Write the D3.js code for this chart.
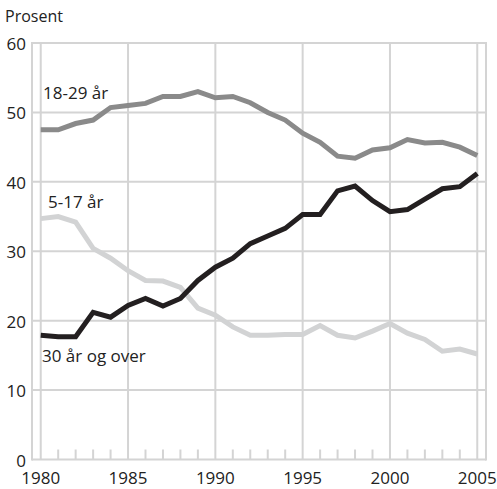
<!DOCTYPE html>
<html>
<head>
<meta charset="utf-8">
<script src="https://cdn.jsdelivr.net/npm/d3@7"></script>
<style>
  body { margin: 0; background: #fff; }
  text { font-family: "Open Sans", sans-serif; fill: #222; }
</style>
</head>
<body>
<svg width="497" height="489"></svg>
<script>
// years 1980-2005
var years = d3.range(1980, 2006);

var age18to29 = [47.5, 47.5, 48.4, 48.9, 50.7, 51.0, 51.3, 52.3, 52.3, 53.0, 52.1, 52.3, 51.4, 50.0, 48.9,
  47.0, 45.7, 43.7, 43.4, 44.6, 44.9, 46.1, 45.6, 45.7, 45.0, 43.8];
var age5to17 = [34.7, 35.0, 34.2, 30.4, 29.0, 27.2, 25.8, 25.7, 24.8, 21.8, 20.8, 19.1, 17.9, 17.9, 18.0,
  18.0, 19.3, 17.9, 17.5, 18.5, 19.6, 18.2, 17.3, 15.6, 15.9, 15.2];
var age30plus = [17.9, 17.7, 17.7, 21.2, 20.5, 22.2, 23.2, 22.1, 23.2, 25.8, 27.7, 29.0, 31.1, 32.2, 33.3,
  35.3, 35.3, 38.7, 39.4, 37.3, 35.7, 36.0, 37.5, 39.0, 39.3, 41.2];

var yTicks = [0, 10, 20, 30, 40, 50, 60];
var xTicks = [1980, 1985, 1990, 1995, 2000, 2005];

var series = [
  {name: "18-29 år", values: age18to29, color: "#8a8a8a", lx: 43, ly: 99},
  {name: "5-17 år", values: age5to17, color: "#d2d3d4", lx: 48, ly: 208},
  {name: "30 år og over", values: age30plus, color: "#231f20", lx: 42, ly: 362}
];

var svg = d3.select("svg");

var x = d3.scaleLinear().domain([1979.5, 2005.5]).range([32, 486]);
var y = d3.scaleLinear().domain([0, 60]).range([459.5, 43]);

var grid = "#d4d4d4";

// horizontal gridlines
svg.selectAll(".hgrid").data(yTicks).enter().append("line")
  .attr("x1", x(1979.5)).attr("x2", x(2005.5))
  .attr("y1", function (d) { return y(d); }).attr("y2", function (d) { return y(d); })
  .attr("stroke", grid).attr("stroke-width", 2);

// vertical gridlines
svg.selectAll(".vgrid").data(xTicks).enter().append("line")
  .attr("x1", function (d) { return x(d); }).attr("x2", function (d) { return x(d); })
  .attr("y1", y(60)).attr("y2", y(0))
  .attr("stroke", grid).attr("stroke-width", 2);

// frame left/right
svg.selectAll(".frame").data([1979.5, 2005.5]).enter().append("line")
  .attr("x1", function (d) { return x(d); }).attr("x2", function (d) { return x(d); })
  .attr("y1", y(60) - 1).attr("y2", y(0) + 1)
  .attr("stroke", grid).attr("stroke-width", 2);

// minor year ticks
svg.selectAll(".minor").data(years.filter(function (d) { return d % 5 != 0; })).enter().append("line")
  .attr("x1", function (d) { return x(d); }).attr("x2", function (d) { return x(d); })
  .attr("y1", y(0)).attr("y2", y(0) - 10)
  .attr("stroke", grid).attr("stroke-width", 2);

// y labels
svg.selectAll(".ylab").data(yTicks).enter().append("text")
  .attr("x", 26).attr("y", function (d) { return y(d) + 7; })
  .attr("text-anchor", "end").attr("font-size", 17)
  .text(function (d) { return d; });

// x labels
svg.selectAll(".xlab").data(xTicks).enter().append("text")
  .attr("x", function (d) { return x(d); }).attr("y", 484)
  .attr("text-anchor", "middle").attr("font-size", 17)
  .text(function (d) { return d; });

svg.append("text").attr("x", 5).attr("y", 22).attr("font-size", 16).text("Prosent");

var line = d3.line()
  .x(function (d, i) { return x(years[i]); })
  .y(function (d) { return y(d); });

svg.selectAll(".series").data(series).enter().append("path")
  .attr("d", function (d) { return line(d.values); })
  .attr("fill", "none")
  .attr("stroke", function (d) { return d.color; })
  .attr("stroke-width", 5)
  .attr("stroke-linejoin", "miter");

svg.selectAll(".slab").data(series).enter().append("text")
  .attr("x", function (d) { return d.lx; }).attr("y", function (d) { return d.ly; })
  .attr("font-size", 17)
  .text(function (d) { return d.name; });
</script>
</body>
</html>
